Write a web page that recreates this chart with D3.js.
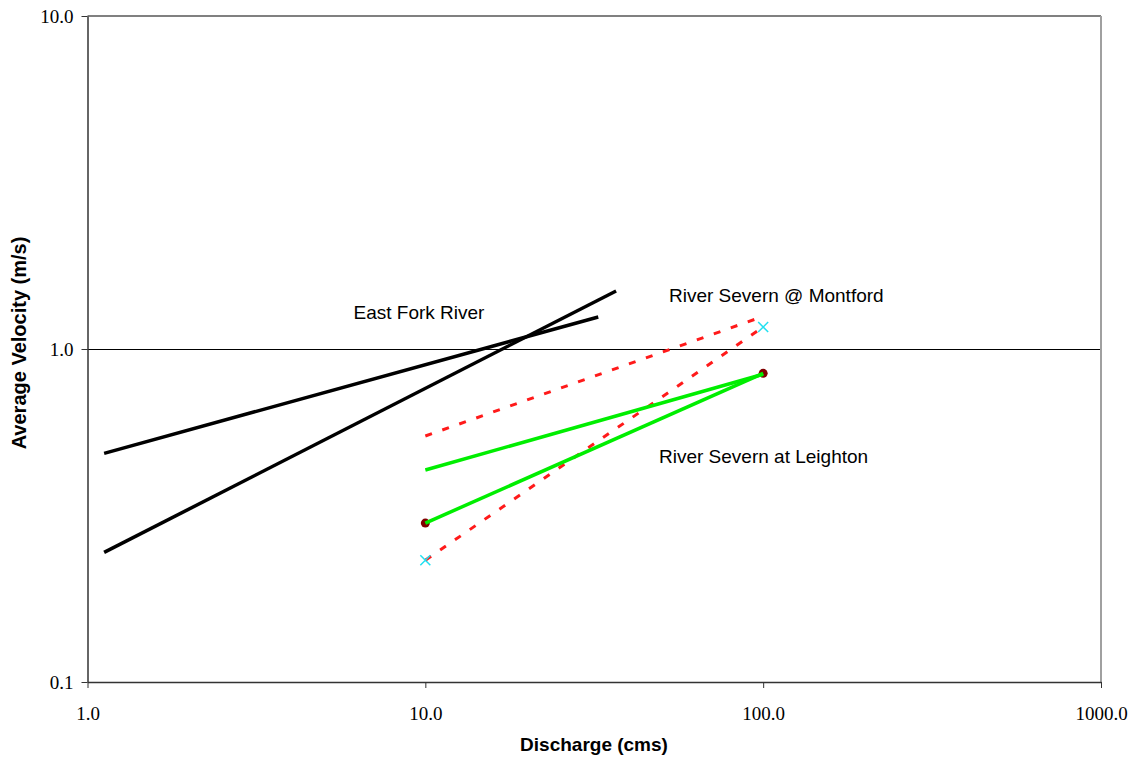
<!DOCTYPE html>
<html lang="en">
<head>
<meta charset="UTF-8">
<script src="https://d3js.org/d3.v7.min.js"></script>
<style>
  html, body { margin: 0; padding: 0; background: #fff; }
  .tick-label { font-family: 'Liberation Serif', 'Times New Roman', serif; font-size: 19px; fill: #000; }
  .axis-title { font-family: 'Liberation Sans', Arial, sans-serif; font-size: 19px; font-weight: bold; fill: #000; }
  .note { font-family: 'Liberation Sans', Arial, sans-serif; font-size: 19px; fill: #000; }
</style>
</head>
<body>
<div id="chart"></div>
<script>
// ---- data ----
var xTicks = [1, 10, 100, 1000];
var yTicks = [0.1, 1, 10];

// East Fork River (two rating lines)
var eastFork1Q = [1.12, 32.5];
var eastFork1V = [0.486, 1.248];
var eastFork2Q = [1.12, 36.7];
var eastFork2V = [0.245, 1.494];

// River Severn @ Montford (red dashed)
var montford1Q = [10, 95];
var montford1V = [0.548, 1.23];
var montford2Q = [10, 100];
var montford2V = [0.232, 1.164];

// River Severn at Leighton (green)
var leighton1Q = [10, 100];
var leighton1V = [0.433, 0.84];
var leighton2Q = [10, 100];
var leighton2V = [0.300, 0.845];

// point markers
var leightonPtsQ = [10, 100];
var leightonPtsV = [0.300, 0.845];
var montfordPtsQ = [10, 100];
var montfordPtsV = [0.232, 1.164];

var labels = ["East Fork River", "River Severn @ Montford", "River Severn at Leighton"];

// ---- layout ----
var width = 1135, height = 757;
var plotLeft = 87.5, plotRight = 1101, plotTop = 16, plotBottom = 682;

var svg = d3.select('#chart').append('svg')
  .attr('width', width)
  .attr('height', height);

var x = d3.scaleLog().domain([1, 1000]).range([plotLeft, plotRight]);
var y = d3.scaleLog().domain([0.1, 10]).range([plotBottom, plotTop]);

function zip(q, v) { return q.map(function(d, i) { return [d, v[i]]; }); }

var line = d3.line()
  .x(function(d) { return x(d[0]); })
  .y(function(d) { return y(d[1]); });

// gridlines
svg.append('line')
  .attr('x1', plotLeft).attr('x2', plotRight)
  .attr('y1', y(10)).attr('y2', y(10))
  .style('stroke', '#808080').style('stroke-width', 2);
svg.append('line')
  .attr('x1', plotLeft).attr('x2', plotRight)
  .attr('y1', y(1) + 0.5).attr('y2', y(1) + 0.5)
  .style('stroke', '#000').style('stroke-width', 1);
// right border
svg.append('line')
  .attr('x1', plotRight).attr('x2', plotRight)
  .attr('y1', plotTop).attr('y2', plotBottom)
  .style('stroke', '#a0a0a0').style('stroke-width', 2);

// axes
var xAxis = d3.axisBottom(x).tickValues(xTicks).tickSize(6).tickSizeOuter(0)
  .tickFormat(d3.format('.1f'));
var yAxis = d3.axisLeft(y).tickValues(yTicks).tickSize(6).tickSizeOuter(0)
  .tickFormat(d3.format('.1f'));

var gx = svg.append('g').attr('transform', 'translate(0,' + plotBottom + ')').call(xAxis);
var gy = svg.append('g').attr('transform', 'translate(' + plotLeft + ',0)').call(yAxis);

[gx, gy].forEach(function(g) {
  g.attr('font-size', null).attr('font-family', null);
  g.select('.domain').style('stroke', '#333').style('stroke-width', 1.5);
  g.selectAll('.tick line').style('stroke', '#333');
  g.selectAll('.tick text').attr('class', 'tick-label');
});
gx.selectAll('.tick text').attr('dy', null).attr('y', 38);
gy.selectAll('.tick text').attr('x', -14).attr('dy', '0.33em');

// series lines
var blackSeries = [zip(eastFork1Q, eastFork1V), zip(eastFork2Q, eastFork2V)];
var redSeries = [zip(montford1Q, montford1V), zip(montford2Q, montford2V)];
var greenSeries = [zip(leighton1Q, leighton1V), zip(leighton2Q, leighton2V)];

svg.selectAll('.ef').data(blackSeries).enter().append('path')
  .attr('class', 'ef')
  .attr('d', line)
  .style('fill', 'none').style('stroke', '#000').style('stroke-width', 3.5);

svg.selectAll('.rs').data(redSeries).enter().append('path')
  .attr('class', 'rs')
  .attr('d', line)
  .style('fill', 'none').style('stroke', '#ff1a1a').style('stroke-width', 3)
  .style('stroke-dasharray', '7,11');

// Leighton markers (dark red circles) under green lines
svg.selectAll('.lp').data(zip(leightonPtsQ, leightonPtsV)).enter().append('circle')
  .attr('class', 'lp')
  .attr('cx', function(d) { return x(d[0]); })
  .attr('cy', function(d) { return y(d[1]); })
  .attr('r', 4.5)
  .style('fill', '#800000');

svg.selectAll('.gs').data(greenSeries).enter().append('path')
  .attr('class', 'gs')
  .attr('d', line)
  .style('fill', 'none').style('stroke', '#00ee00').style('stroke-width', 3.5);

// Montford markers (cyan x)
var xm = svg.selectAll('.mp').data(zip(montfordPtsQ, montfordPtsV)).enter().append('g')
  .attr('class', 'mp')
  .attr('transform', function(d) { return 'translate(' + x(d[0]) + ',' + y(d[1]) + ')'; });
xm.append('path')
  .attr('d', 'M-5,-5L5,5M-5,5L5,-5')
  .style('stroke', '#22e0f0').style('stroke-width', 1.5);

// annotations
svg.append('text').attr('class', 'note').attr('x', 419).attr('y', 319)
  .attr('text-anchor', 'middle').text(labels[0]);
svg.append('text').attr('class', 'note').attr('x', 669).attr('y', 302)
  .text(labels[1]);
svg.append('text').attr('class', 'note').attr('x', 659).attr('y', 463)
  .text(labels[2]);

// axis titles
svg.append('text').attr('class', 'axis-title')
  .attr('x', 594).attr('y', 751)
  .attr('text-anchor', 'middle').text('Discharge (cms)');
svg.append('text').attr('class', 'axis-title')
  .style('font-size', '20px')
  .attr('transform', 'translate(26,' + 343 + ') rotate(-90)')
  .attr('text-anchor', 'middle').text('Average Velocity (m/s)');
</script>
</body>
</html>
